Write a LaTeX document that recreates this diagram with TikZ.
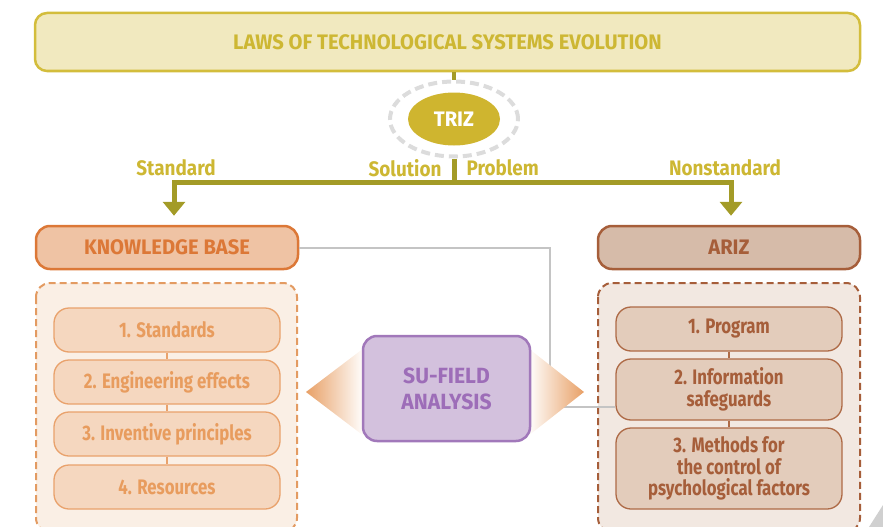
\documentclass[tikz,border=0pt]{standalone}
\usepackage{fontspec}
\setmainfont{Fira Sans}[FakeStretch=0.8]
\newfontfamily\capsfont{Fira Sans}[FakeStretch=0.96]
\newfontfamily\labelfont{Fira Sans}[FakeStretch=0.9]
\usetikzlibrary{arrows.meta,shapes.geometric,positioning}

\definecolor{lawfill}{HTML}{F1E9BF}
\definecolor{lawdraw}{HTML}{D3BD3C}
\definecolor{lawtext}{HTML}{CDB733}
\definecolor{trizfill}{HTML}{CFB52F}
\definecolor{ringgray}{HTML}{DCDCDC}
\definecolor{flowline}{HTML}{A39B27}
\definecolor{kbfill}{HTML}{EFC3A4}
\definecolor{kbdraw}{HTML}{DC7837}
\definecolor{kbback}{HTML}{FAEFE5}
\definecolor{kbdash}{HTML}{E39B62}
\definecolor{kbitem}{HTML}{F5D7BF}
\definecolor{kbitemdraw}{HTML}{E9A26C}
\definecolor{kbitemtext}{HTML}{E89C5E}
\definecolor{arizfill}{HTML}{D6BBA9}
\definecolor{arizdraw}{HTML}{A65E3A}
\definecolor{arizback}{HTML}{F2E8E1}
\definecolor{arizitem}{HTML}{E3CCBB}
\definecolor{arizitemdraw}{HTML}{AE6A46}
\definecolor{sufill}{HTML}{D3C1DD}
\definecolor{sudraw}{HTML}{A178BA}
\definecolor{sutext}{HTML}{9D6DB8}
\definecolor{linkgray}{HTML}{C4C4C4}
\definecolor{wedge}{HTML}{E8A066}

\tikzset{
  txt/.style={font=\fontsize{21}{21.5}\selectfont\bfseries, align=center},
  capstxt/.style={font=\capsfont\fontsize{21}{24}\selectfont\bfseries, align=center},
  header/.style={capstxt, rounded corners=14pt, line width=2.5pt, minimum width=262pt, minimum height=43pt},
  kbitembox/.style={txt, rounded corners=15pt, line width=1.3pt, draw=kbitemdraw, fill=kbitem,
    text=kbitemtext, minimum width=226pt, minimum height=44pt},
  arizitembox/.style={txt, rounded corners=15pt, line width=1.3pt, draw=arizitemdraw, fill=arizitem,
    text=arizdraw, minimum width=226pt},
  flow/.style={line width=5pt, draw=flowline},
  flowlabel/.style={font=\labelfont\fontsize{21}{24}\selectfont\bfseries, text=lawtext},
}

\begin{document}
\begin{tikzpicture}[x=1pt, y=-1pt]
  \useasboundingbox (0,0) rectangle (883,527);
  \clip (0,0) rectangle (883,527);

  % top banner and TRIZ
  \node[capstxt, draw=lawdraw, fill=lawfill, text=lawtext, line width=2.5pt, rounded corners=12pt,
        minimum width=825pt, minimum height=58pt] (laws) at (447.5,42)
        {LAWS OF TECHNOLOGICAL SYSTEMS EVOLUTION};
  \node[ellipse, draw=ringgray, line width=4pt, dash pattern=on 9pt off 5pt,
        minimum width=128pt, minimum height=75pt] (ring) at (454,119) {};
  \draw[flowline, line width=4pt] (ring.north |- laws.south) -- (ring.north);
  \node[ellipse, fill=trizfill, text=white, capstxt, minimum width=92pt, minimum height=53pt]
        (triz) at (454,119) {TRIZ};

  % the two branches
  \node[header, draw=kbdraw, fill=kbfill, text=kbdraw] (kbhead) at (167,247.5) {KNOWLEDGE BASE};
  \node[header, draw=arizdraw, fill=arizfill, text=arizdraw] (arizhead) at (729,247.5) {ARIZ};
  \draw[flow] (ring.south) -- ++(0,24) coordinate (split);
  \draw[flow, -{Triangle[width=22pt,length=14pt]}, shorten >=9pt]
        (split) -| ([xshift=7pt]kbhead.north);
  \draw[flow, -{Triangle[width=22pt,length=14pt]}, shorten >=9pt]
        (split) -| ([xshift=2pt]arizhead.north);
  \node[flowlabel] (std) at (176,168) {Standard};
  \node[flowlabel, anchor=east] (sol) at (445,168) {Solution};
  \node[flowlabel, anchor=west] (prob) at (463,168) {Problem};
  \node[flowlabel] (nonstd) at (725,168) {Nonstandard};

  % dashed containers
  \draw[dashed, dash pattern=on 7pt off 4pt, line width=2pt, draw=kbdash, fill=kbback,
        rounded corners=14pt] (36,283) rectangle (297,532);
  \draw[dashed, dash pattern=on 7pt off 4pt, line width=2pt, draw=arizdraw, fill=arizback,
        rounded corners=14pt] (598,283) rectangle (860,532);

  % knowledge base items
  \node[kbitembox] (std1) at (167,330) {1. Standards};
  \node[kbitembox] (eng2) at (167,382) {2. Engineering effects};
  \node[kbitembox] (inv3) at (167,434) {3. Inventive principles};
  \node[kbitembox] (res4) at (167,487) {4. Resources};
  \foreach \a/\b in {std1/eng2, eng2/inv3, inv3/res4}
    \draw[kbitemdraw, line width=1.3pt] (\a.south) -- (\b.north);

  % ARIZ items
  \node[arizitembox, minimum height=44pt] (prog1) at (729,329) {1. Program};
  \node[arizitembox, minimum height=61pt] (info2) at (729,389.5) {2. Information\\ safeguards};
  \node[arizitembox, minimum height=81pt] (meth3) at (729,468.5)
        {3. Methods for\\the control of\\psychological factors};
  \foreach \a/\b in {prog1/info2, info2/meth3}
    \draw[arizitemdraw, line width=1.3pt] (\a.south) -- (\b.north);

  % gray link behind the wedges
  \coordinate (bend) at (550,407);
  \draw[linkgray, line width=2pt] (kbhead.east) -| (bend) -- (bend -| info2.west);

  % wedges pointing out of the su-field box
  \shade[left color=wedge, right color=white] (306,392) -- (364,348) -- (364,436) -- cycle;
  \shade[left color=white, right color=wedge] (528,348) -- (584,392) -- (528,436) -- cycle;
  \node[capstxt, font=\capsfont\fontsize{22}{26}\selectfont\bfseries, draw=sudraw, fill=sufill,
        text=sutext, line width=2.5pt, rounded corners=14pt, minimum width=167pt,
        minimum height=105pt] (su) at (446.5,388.5) {SU-FIELD\\ANALYSIS};

  % page corner
  \fill[linkgray!80] (869,527) -- (883,505) -- (883,527) -- cycle;
\end{tikzpicture}
\end{document}
